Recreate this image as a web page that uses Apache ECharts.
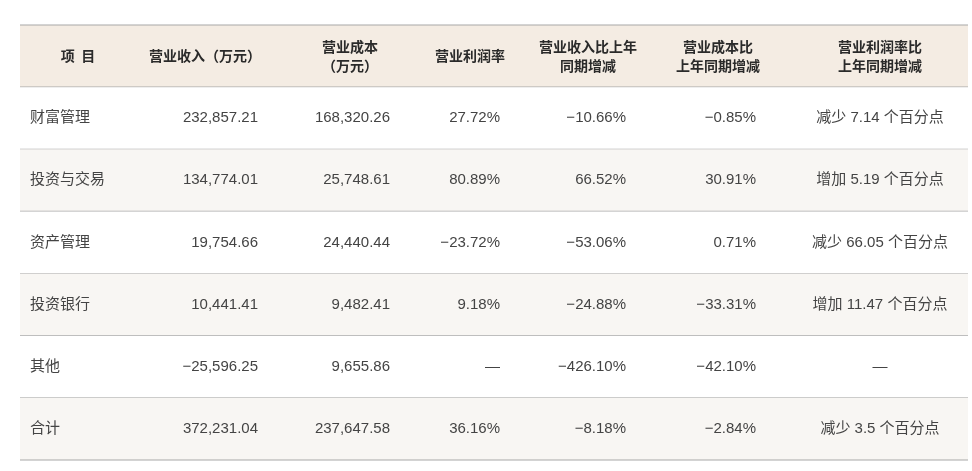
<!DOCTYPE html>
<html><head><meta charset="utf-8">
<script src="https://cdn.jsdelivr.net/npm/echarts@6/dist/echarts.min.js"></script>
<style>html,body{margin:0;padding:0;background:#fff}#c{width:972px;height:471px}</style>
</head><body><div id="c"></div>
<script>
const headers = ['项  目','营业收入（万元）','营业成本\n（万元）','营业利润率','营业收入比上年\n同期增减','营业成本比\n上年同期增减','营业利润率比\n上年同期增减'];
const items = ['财富管理','投资与交易','资产管理','投资银行','其他','合计'];
const revenue = ['232,857.21','134,774.01','19,754.66','10,441.41','−25,596.25','372,231.04'];
const cost = ['168,320.26','25,748.61','24,440.44','9,482.41','9,655.86','237,647.58'];
const margin = ['27.72%','80.89%','−23.72%','9.18%','—','36.16%'];
const revChg = ['−10.66%','66.52%','−53.06%','−24.88%','−426.10%','−8.18%'];
const costChg = ['−0.85%','30.91%','0.71%','−33.31%','−42.10%','−2.84%'];
const marginChg = ['减少 7.14 个百分点','增加 5.19 个百分点','减少 66.05 个百分点','增加 11.47 个百分点','—','减少 3.5 个百分点'];

const rows = [headers].concat(items.map((n,i)=>[n,revenue[i],cost[i],margin[i],revChg[i],costChg[i],marginChg[i]]));
const rowNames = rows.map((r,i)=>'r'+i);
const bodyAnchor = [[10,'left'],[238,'right'],[370,'right'],[480,'right'],[606,'right'],[736,'right'],[860,'center']];
const headAnchor = [58,185,330,450,568,698,860];
const HEADFONT = '"Noto Sans CJK SC", "Noto Sans", sans-serif';
const BODYFONT = '"Liberation Sans", "Noto Sans CJK SC", sans-serif';

const chart = echarts.init(document.getElementById('c'));
chart.setOption({
  animation:false,
  grid:{left:20,right:4,top:25,bottom:11},
  xAxis:{type:'value',min:0,max:948,show:false},
  yAxis:{type:'category',data:rowNames,inverse:true,show:false},
  series:[{
    type:'custom',
    data:rows.map((r,i)=>[0,i]),
    renderItem:function(params,api){
      const i = api.value(1);
      const p0 = api.coord([0,i]);
      const p1 = api.coord([948,i]);
      const h = api.size([0,1])[1];
      const top = p0[1]-h/2, cy = p0[1];
      const isHead = i===0;
      const bg = isHead ? '#f4ece3' : (i%2===0 ? '#f8f6f3' : '#ffffff');
      const children = [
        {type:'rect',shape:{x:p0[0],y:top,width:p1[0]-p0[0],height:h},style:{fill:bg}},
        {type:'line',shape:{x1:p0[0],y1:top+h,x2:p1[0],y2:top+h},style:{stroke:'#a8a8a8',lineWidth:1.2}}
      ];
      if(isHead) children.push({type:'line',shape:{x1:p0[0],y1:top,x2:p1[0],y2:top},style:{stroke:'#a8a8a8',lineWidth:1.2}});
      rows[i].forEach((t,j)=>{
        const x = isHead ? api.coord([headAnchor[j],i])[0] : api.coord([bodyAnchor[j][0],i])[0];
        children.push({type:'text',style:{
          text:t,x:x,y:cy,
          align:isHead?'center':bodyAnchor[j][1],verticalAlign:'middle',
          fontFamily:isHead?HEADFONT:BODYFONT,fontSize:isHead?14:15,lineHeight:19,
          fontWeight:isHead?'bold':'normal',
          fill:isHead?'#2a2a2a':'#444444'
        }});
      });
      return {type:'group',children:children};
    }
  }]
});
</script></body></html>
